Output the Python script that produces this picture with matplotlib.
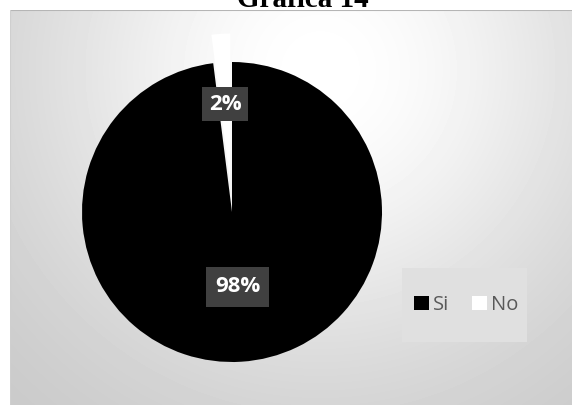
import numpy as np
import matplotlib.pyplot as plt
from matplotlib.patches import Rectangle

labels = ['Si', 'No']
values = [98, 2]
colors = ['#000000', '#ffffff']
pct_labels = ['98%', '2%']

W, H = 572, 405
fig = plt.figure(figsize=(W / 100, H / 100), dpi=100)
fig.patch.set_facecolor('white')

# chart area with a soft radial gradient
bg = fig.add_axes([10 / W, 0, (W - 10) / W, (H - 10) / H])
yy, xx = np.mgrid[10:H, 10:W]
d = np.hypot(xx - 320, yy - 70)
shade = 0.77 + 0.23 * np.exp(-(d / 300.0) ** 2)
bg.imshow(shade, cmap='gray', vmin=0, vmax=1, aspect='auto',
          extent=[0, 1, 0, 1], interpolation='bilinear')
bg.set_xlim(0, 1)
bg.set_ylim(0, 1)
bg.axis('off')
bg.plot([0, 1], [1, 1], color='#b5b5b5', lw=1.5, transform=bg.transAxes)
bg.plot([0, 0], [0, 1], color='#cfcfcf', lw=1.5, transform=bg.transAxes)

# pie, centred at (232, 212) px with radius 150 px
cx, cy, r = 232, 212, 150
half = 200
ax = fig.add_axes([(cx - half) / W, (H - cy - half) / H, 2 * half / W, 2 * half / H])
wedges, _ = ax.pie(values, colors=colors, startangle=90, counterclock=False,
                   explode=[0, 0.19], radius=1.0,
                   wedgeprops=dict(linewidth=0))
lim = half / r
ax.set_xlim(-lim, lim)
ax.set_ylim(-lim, lim)
ax.set_aspect('equal')
ax.axis('off')

# data labels
def px(x, y):
    return ((x - cx) / r, (cy - y) / r)

lx, ly = px(237.5, 287)
ax.text(lx, ly, pct_labels[0], color='white', fontsize=16, fontweight='bold',
        family='Open Sans', ha='center', va='center',
        bbox=dict(boxstyle='square,pad=0.42', facecolor='#404040', edgecolor='none'))
lx, ly = px(225, 104)
ax.text(lx, ly, pct_labels[1], color='white', fontsize=16, fontweight='bold',
        family='Open Sans', ha='center', va='center',
        bbox=dict(boxstyle='square,pad=0.3', facecolor='#404040', edgecolor='none'))

# legend
fig.patches.append(Rectangle((402 / W, 1 - 342 / H), 125 / W, 74 / H,
                             transform=fig.transFigure, facecolor='#e0e0e0',
                             edgecolor='none', zorder=1))
leg = fig.legend(wedges, labels, loc='center', bbox_to_anchor=(466 / W, 1 - 305 / H),
                 ncol=2, frameon=False, handlelength=0.75, handleheight=0.75,
                 handletextpad=0.2, columnspacing=1.1,
                 prop=dict(family='Open Sans', size=14.5))
for t in leg.get_texts():
    t.set_color('#595959')
for hnd in leg.legend_handles:
    hnd.set_edgecolor('none')

# title (partly above the top edge)
fig.text(303 / W, 1 - 7 / H, 'Gráfica 14', ha='center', va='baseline',
         family='Liberation Serif', fontweight='bold', fontsize=21)

fig.savefig('out.png', dpi=100)
